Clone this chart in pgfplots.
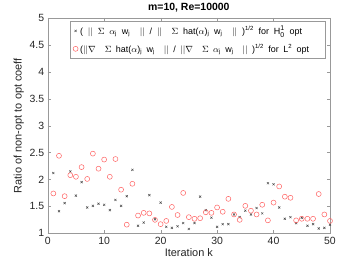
\documentclass[border=0pt]{standalone}
\usepackage{pgfplots}
\pgfplotsset{compat=1.18}
\usepackage{fontspec}
\setmainfont{Liberation Sans}
\definecolor{mred}{rgb}{1,0.38,0.38}
\definecolor{axgray}{rgb}{0.6,0.6,0.6}
\pgfplotstableread{
k y
1 2.12
2 1.41
3 1.56
4 2.15
5 1.70
6 1.95
7 1.48
8 1.51
9 1.55
10 1.53
11 1.43
12 1.62
13 1.51
14 1.69
15 2.18
16 1.14
17 1.20
18 1.71
19 1.26
20 1.57
21 1.12
22 1.10
23 1.13
24 1.19
25 1.08
26 1.19
27 1.68
28 1.43
29 1.29
30 1.12
31 1.17
32 1.17
33 1.35
34 1.30
35 1.42
36 1.35
37 1.47
38 1.37
39 1.93
40 1.91
41 1.48
42 1.27
43 1.30
44 1.19
45 1.29
46 1.14
47 1.17
48 1.09
49 1.10
50 1.16
}\blackdata
\pgfplotstableread{
k y
1 1.74
2 2.44
3 1.69
4 2.08
5 2.05
6 2.23
7 2.01
8 2.48
9 2.20
10 2.37
11 2.05
12 2.38
13 1.81
14 1.16
15 1.92
16 1.33
17 1.38
18 1.37
19 1.25
20 1.17
21 1.23
22 1.49
23 1.34
24 1.75
25 1.30
26 1.27
27 1.28
28 1.39
29 1.38
30 1.48
31 1.40
32 1.64
33 1.35
34 1.25
35 1.51
36 1.42
37 1.35
38 1.53
39 1.24
40 1.57
41 1.87
42 1.68
43 1.66
44 1.24
45 1.27
46 1.27
47 1.27
48 1.73
49 1.35
50 1.23
}\reddata
\begin{document}
\begin{tikzpicture}
\path[use as bounding box] (-47.7bp,-32.7bp) rectangle (293.3bp,233.3bp);
\begin{axis}[
  scale only axis,
  width=282.3bp, height=215.3bp,
  xmin=0, xmax=50, ymin=1, ymax=5,
  xtick={0,10,...,50},
  ytick={1,1.5,...,5},
  yticklabel style={/pgf/number format/fixed},
  /pgf/number format/assume math mode=true,
  tick align=inside,
  major tick length=3bp,
  axis line style={axgray},
  tick style={axgray},
  ticklabel style={font=\fontsize{10.5}{11}\selectfont, text=black!85},
  xlabel={Iteration k},
  ylabel={Ratio of non-opt to opt coeff},
  label style={font=\fontsize{11}{12}\selectfont, text=black!85},
  xlabel style={yshift=3bp},
  ylabel style={yshift=-1bp},
  title={\bfseries m=10, Re=10000},
  title style={font=\fontsize{10.5}{12}\selectfont, yshift=-4bp},
  legend style={at={(rel axis cs:0.985,0.985)}, anchor=north east,
    draw=axgray, font=\fontsize{9}{10}\selectfont, row sep=4bp,
    inner sep=2.5pt},
  legend cell align=left,
]
\addplot[only marks, mark=x, mark size=1.5pt, draw=black!70, line width=0.5pt] table[x=k,y=y]{\blackdata};
\addlegendentry{\makebox[222bp][s]{( $||$ $\Sigma$ $\alpha$\textsubscript{j} w\textsubscript{j} \ $||$ / $||$ \ $\Sigma$ hat($\alpha$)\textsubscript{j} w\textsubscript{j} \ $||$ )\textsuperscript{1/2} for H$^{\mbox{\scriptsize 1}}_{\mbox{\scriptsize 0}}$ opt}}
\addplot[only marks, mark=o, mark size=2.5pt, draw=mred, line width=0.5pt] table[x=k,y=y]{\reddata};
\addlegendentry{\makebox[229bp][s]{($||$$\nabla$ \ $\Sigma$ hat($\alpha$)\textsubscript{j} w\textsubscript{j} \ $||$ / $||$$\nabla$ \ $\Sigma$ $\alpha$\textsubscript{j} w\textsubscript{j} \ $||$ )\textsuperscript{1/2} for L\textsuperscript{2} opt}\hspace*{12bp}}
\end{axis}
\end{tikzpicture}
\end{document}
